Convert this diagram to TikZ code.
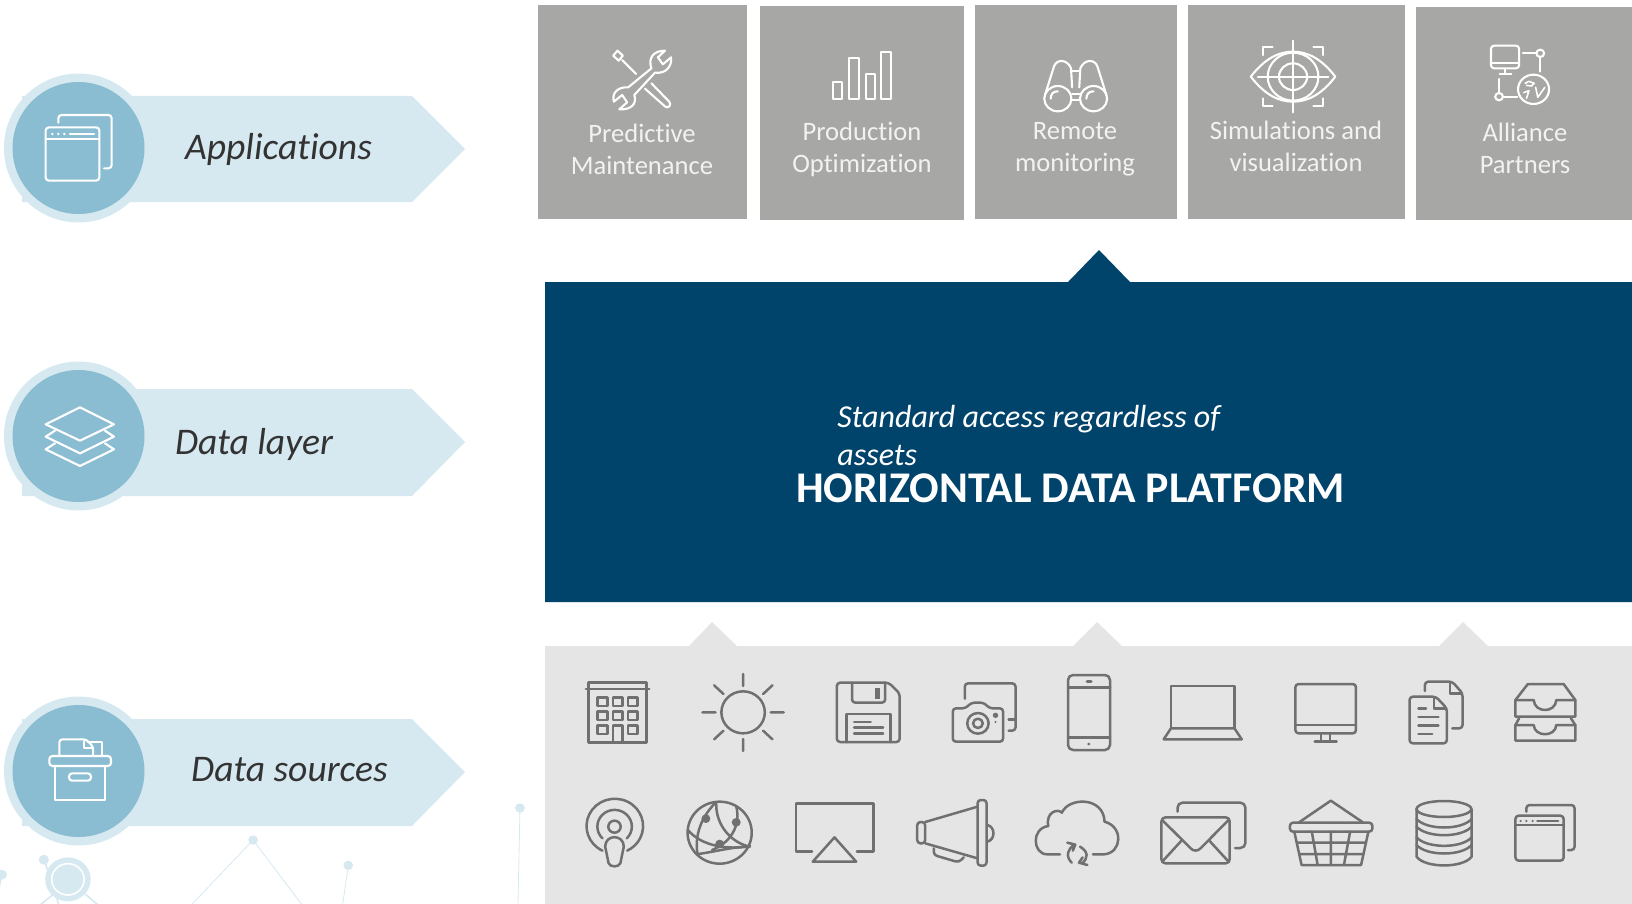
\documentclass[tikz,border=0pt]{standalone}
\usepackage{fontspec}
\setmainfont[Ligatures=NoCommon]{Carlito}
\definecolor{lightblue}{HTML}{D6E8F0}
\definecolor{midblue}{HTML}{8BBDD2}
\definecolor{navy}{HTML}{00436B}
\definecolor{tile}{HTML}{A7A7A5}
\definecolor{panel}{HTML}{E5E5E5}
\definecolor{icongrey}{HTML}{707070}
\definecolor{labelgrey}{HTML}{333333}
\tikzset{
  z1/.style={shift={(530,0)},xscale=1/2.8,yscale=1/3},
  z2/.style={shift={(1080,0)},xscale=1/2.84,yscale=1/3},
  z3/.style={shift={(550,620)},xscale=1/2.9,yscale=1/3},
  z4/.style={shift={(1060,620)},xscale=1/2.74,yscale=1/3},
  z5/.style={shift={(0,60)},xscale=1/3,yscale=1/3},
  z6/.style={shift={(0,680)},xscale=1/2.9,yscale=1/3},
  iw/.style={draw=white,line width=1.05pt,line cap=round,line join=round},
  ig/.style={draw=icongrey,line width=1.25pt,line cap=round,line join=round},
  rc/.style={rounded corners=1.6pt},
  tiletext/.style={text=white!95!black,font=\fontsize{13.3}{16}\selectfont,align=center,inner sep=0pt},
  sidelabel/.style={text=labelgrey,font=\fontsize{18.8}{22}\itshape\selectfont,inner sep=0pt},
  sidearrow/.style={fill=lightblue,draw=none},
  mesh/.style={draw=lightblue,line width=.4pt},
  meshdot/.style={fill=lightblue,draw=none},
}
\begin{document}
\begin{tikzpicture}[x=0.5pt,y=-0.5pt]
\useasboundingbox (0,0) rectangle (1632,904);
\clip (0,0) rectangle (1632,904);

% mesh decoration
\begin{scope}[z6]
  \draw[mesh] (734,480)--(550,680) (734,480)--(880,680) (1010,556)--(993,680) (1508,384)--(1502,680);
  \fill[meshdot] (734,480) circle (14) (1010,556) circle (14) (1508,384) circle (14);
  \draw[mesh,line width=.8pt] (127,539)--(140,575) (5,584)--(-2,620) (152,645)--(110,680) (247,642)--(290,680) (165,655)--(172,680);
  \fill[meshdot] (127,539) circle (15) (5,584) circle (15);
  \fill[meshdot] (197,598) circle (66);
  \draw[white,line width=.8pt] (197,598) circle (47);
\end{scope}

% side arrows
\foreach \yt/\yb/\ym/\yc/\nm in {96/202/149/148/a,389/496/442/436/b,719/826/772/771/c}{
  \fill[sidearrow] (22,\yt)--(412,\yt)--(465,\ym)--(412,\yb)--(22,\yb)--cycle;
  \fill[lightblue] (78.5,\yc) circle (74.5);
  \fill[midblue] (78.5,\yc) circle (66);
}
\node[sidelabel,anchor=center] (lapp) at (278.5,149) {Applications};
\node[sidelabel,anchor=center] (ldat) at (254,444) {Data layer};
\node[sidelabel,anchor=center] (lsrc) at (289.5,770) {Data sources};

% side icons
\begin{scope}[z5]
  \draw[iw,rc] (175,188)--(175,165)--(335,165)--(335,325)--(312,325);
  \draw[iw,rc] (137,202) rectangle (298,362);
  \draw[iw] (137,238)--(298,238) (210,222)--(282,222);
  \fill[white] (157,222) circle (4) (175,222) circle (4) (193,222) circle (4);
  \draw[iw] (240,1042)--(342,1093)--(240,1142)--(137,1093)--cycle;
  \draw[iw] (165,1112)--(137,1130)--(240,1180)--(342,1130)--(315,1112);
  \draw[iw] (165,1150)--(137,1168)--(240,1218)--(342,1168)--(315,1150);
\end{scope}
\begin{scope}[z6]
  \draw[iw,rc] (143,228) rectangle (322,258);
  \draw[iw] (160,258)--(160,360)--(305,360)--(305,258);
  \draw[iw,rc] (200,280) rectangle (264,302);
  \draw[iw,rc] (172,228)--(172,178)--(250,178)--(270,200)--(270,228);
  \draw[iw] (243,185)--(243,205)--(270,205);
  \draw[iw] (255,185)--(296,185)--(296,228);
\end{scope}

% tiles
\fill[tile] (538,5) rectangle (747,219);
\fill[tile] (760,6) rectangle (964,220);
\fill[tile] (975,5) rectangle (1177,219);
\fill[tile] (1188,5) rectangle (1405,219);
\fill[tile] (1416,7) rectangle (1632,220);
\node[tiletext] (t1) at (642,149) {Predictive\\Maintenance};
\node[tiletext] (t2) at (862,149) {Production\\Optimization};
\node[tiletext] (t3) at (1075,149) {Remote\\monitoring};
\node[tiletext] (t4) at (1296,146) {Simulations and\\visualization};
\node[tiletext] (t5) at (1525,148) {Alliance\\Partners};

% tile icons
\begin{scope}[z1]
  % screwdriver and wrench
  \draw[iw] (245,152)--(260,167)--(248,182)--(233,167)--cycle (258,180)--(297,222);
  \draw[iw,rc] (340,250)--(396,312)--(385,326)--(322,266);
  \draw[iw] (340,205) .. controls (330,175) and (345,152) .. (378,152) -- (358,172) -- (372,193) -- (395,172) .. controls (398,200) and (380,222) .. (350,218) -- (292,285) .. controls (300,310) and (285,330) .. (250,328) -- (272,307) -- (258,285) -- (235,305) .. controls (228,280) and (245,260) .. (275,262) -- cycle;
  % bars
  \draw[iw] (848,245) rectangle (874,297) (894,173) rectangle (920,297) (940,222) rectangle (966,297) (984,156) rectangle (1010,297);
  % binoculars
  \draw[iw] (1478,296) circle (38) (1578,296) circle (38);
  \draw[iw] (1442,285)--(1467,200) .. controls (1475,175) and (1505,178) .. (1515,205) -- (1518,262);
  \draw[iw] (1614,285)--(1589,200) .. controls (1581,175) and (1551,178) .. (1541,205) -- (1538,262);
  \draw[iw] (1518,212)--(1538,212) (1518,282)--(1538,282) (1518,300)--(1538,300);
  \draw[iw] (1458,296) .. controls (1458,282) and (1465,274) .. (1478,274);
  \draw[iw] (1558,296) .. controls (1558,282) and (1565,274) .. (1578,274);
\end{scope}
\begin{scope}[z2]
  % eye
  \draw[iw] (485,230) .. controls (525,175) and (565,155) .. (605,155) .. controls (645,155) and (685,175) .. (725,230) .. controls (685,285) and (645,305) .. (605,305) .. controls (565,305) and (525,285) .. (485,230) -- cycle;
  \draw[iw] (605,230) circle (72);
  \draw[iw] (605,230) circle (40);
  \draw[iw] (605,122)--(605,337) (505,230)--(705,230);
  \draw[iw] (520,165)--(520,140)--(547,140) (663,140)--(690,140)--(690,165) (520,295)--(520,318)--(547,318) (663,318)--(690,318)--(690,295);
  % alliance
  \draw[iw,rc] (1167,137) rectangle (1247,205);
  \draw[iw] (1167,190)--(1247,190) (1208,205)--(1208,222) (1192,222)--(1225,222);
  \draw[iw] (1258,160)--(1296,160) (1307,172)--(1307,215);
  \draw[iw] (1307,160) circle (11);
  \draw[iw] (1288,268) circle (44);
  \draw[iw] (1190,237)--(1190,279) (1202,290)--(1242,290);
  \draw[iw] (1190,290) circle (11);
  \draw[iw,line width=.8pt] (1264,250)--(1275,244)--(1290,250)--(1282,258)--(1268,256) (1260,278)--(1275,272)--(1268,295) (1294,262)--(1300,292)--(1320,262);
\end{scope}

% platform
\fill[navy] (545,282)--(1068,282)--(1099,250)--(1130,282)--(1632,282)--(1632,602)--(545,602)--cycle;
\node[text=white,font=\fontsize{16}{19}\itshape\selectfont,align=left,inner sep=0pt,anchor=north west] (sub) at (837,405) {Standard access regardless of\\assets};
\node[text=white,font=\fontsize{21.9}{26}\bfseries\selectfont,inner sep=0pt] (plat) at (1070.5,488) {HORIZONTAL DATA PLATFORM};

% grey panel
\fill[panel] (545,646)--(689,646)--(712,622)--(737,646)--(1073,646)--(1097,622)--(1122,646)--(1439,646)--(1463,622)--(1488,646)--(1632,646)--(1632,904)--(545,904)--cycle;

\begin{scope}[z3]
  % building
  \draw[ig] (112,188) rectangle (280,367) (104,207)--(288,207);
  \foreach \yy in {232,274}{
    \draw[ig] (138,\yy) rectangle ++(29,26) (182,\yy) rectangle ++(28,26) (226,\yy) rectangle ++(28,26);
  }
  \draw[ig] (138,316) rectangle ++(29,26) (226,316) rectangle ++(28,26) (182,367)--(182,316)--(210,316)--(210,367);
  % sun
  \draw[ig] (560,277) circle (63);
  \draw[ig] (560,162)--(560,198) (560,357)--(560,393) (442,277)--(480,277) (640,277)--(678,277) (476,196)--(503,222) (645,196)--(618,222) (476,358)--(503,332) (645,358)--(618,332);
  % floppy
  \draw[ig,rc] (1014,220)--(982,188)--(832,188)--(832,366)--(1014,366)--cycle;
  \draw[ig,rc] (876,188)--(876,248)--(972,248)--(972,188);
  \fill[icongrey] (942,203) rectangle (958,236);
  \draw[ig] (860,366)--(860,282)--(988,282)--(988,366);
  \draw[ig] (882,306)--(930,306) (882,323)--(966,323) (882,340)--(966,340);
  % camera
  \draw[ig,rc] (1203,236)--(1203,190)--(1350,190)--(1350,332)--(1330,332);
  \draw[ig] (1330,298)--(1350,298);
  \draw[ig,rc] (1168,265)--(1205,265)--(1222,248)--(1258,248)--(1275,265)--(1314,265)--(1314,365)--(1168,365)--cycle;
  \draw[ig] (1241,310) circle (31) (1241,310) circle (14);
  \fill[icongrey] (1292,286) circle (8) (1292,306) circle (3.5);
  % podcast
  \draw[ig] (152,692) arc[start angle=116,end angle=424,radius=82];
  \draw[ig] (152,655) arc[start angle=135,end angle=405,radius=50];
  \draw[ig] (187,620) circle (18);
  \draw[ig] (160,680) .. controls (160,642) and (214,642) .. (214,680) -- (204,730) .. controls (200,742) and (174,742) .. (170,730) -- cycle;
  % globe
  \draw[ig] (492,638) circle (93);
  \draw[ig] (480,548) .. controls (430,600) and (420,660) .. (428,702);
  \draw[ig] (482,548) .. controls (480,620) and (530,670) .. (580,680);
  \draw[ig] (540,558) .. controls (555,620) and (520,670) .. (470,690);
  \draw[ig] (400,630) .. controls (440,680) and (520,690) .. (580,678);
  \draw[ig] (430,702) .. controls (480,695) and (530,680) .. (578,680);
  \fill[icongrey] (452,596) circle (13) (540,607) circle (13) (492,672) circle (13);
  % airplay
  \draw[ig] (760,695)--(714,695)--(714,550)--(938,550)--(938,695)--(890,695);
  \draw[ig] (825,652)--(888,725)--(762,725)--cycle;
  % megaphone
  \draw[ig,rc] (1065,606) rectangle (1088,670);
  \draw[ig] (1088,606)--(1240,560) (1088,670)--(1240,715);
  \draw[ig,rc] (1240,540) rectangle (1266,737);
  \draw[ig] (1268,615) .. controls (1292,620) and (1292,660) .. (1268,665);
  \draw[ig,rc] (1113,685)--(1113,705)--(1185,727)--(1200,712);
\end{scope}

\begin{scope}[z4]
  % cloud
  \draw[ig] (0,703)--(-35,703) .. controls (-75,703) and (-80,625) .. (-32,618) .. controls (-40,575) and (-5,565) .. (5,578) .. controls (25,530) and (120,530) .. (122,605) .. controls (175,620) and (170,700) .. (120,703) -- (90,703);
  \draw[ig] (40,675) .. controls (20,685) and (15,710) .. (32,728) (20,668)--(42,674)--(35,692);
  \draw[ig] (55,680) .. controls (78,695) and (78,715) .. (60,730) (75,735)--(52,728)--(62,712);
  % phone
  \draw[ig,rounded corners=2.5pt] (22,165) rectangle (137,390);
  \draw[ig] (22,203)--(137,203) (22,353)--(137,353);
  \draw[ig,line width=1.5pt] (74,184)--(85,184);
  \fill[icongrey] (79,372) circle (4.5);
  % laptop
  \draw[ig] (304,322)--(304,198)--(478,198)--(478,322);
  \draw[ig] (304,325)--(478,325)--(498,358)--(284,358)--cycle;
  % monitor
  \draw[ig,rc] (645,192) rectangle (811,340);
  \draw[ig] (645,315)--(811,315) (715,340)--(715,362) (740,340)--(740,362) (698,364)--(758,364);
  % documents
  \draw[ig,rc] (1000,213)--(1000,185)--(1075,185)--(1103,220)--(1103,325)--(1075,325);
  \draw[ig] (1068,188)--(1068,220)--(1100,220);
  \draw[ig,rc] (958,230)--(1030,230)--(1060,265)--(1060,370)--(958,370)--cycle;
  \draw[ig] (1025,232)--(1025,265)--(1058,265);
  \draw[ig] (982,265)--(1003,265) (982,291)--(1037,291) (982,316)--(1037,316) (982,342)--(1020,342);
  % trays
  \draw[ig] (1248,290)--(1248,240)--(1282,192)--(1380,192)--(1412,240)--(1412,290)--cycle;
  \draw[ig] (1248,240)--(1298,240) .. controls (1300,280) and (1358,280) .. (1360,240)--(1412,240);
  \draw[ig] (1258,295)--(1248,315)--(1248,362)--(1412,362)--(1412,315)--(1400,295);
  \draw[ig] (1248,315)--(1298,315) .. controls (1300,352) and (1358,352) .. (1360,315)--(1412,315);
  % envelope
  \draw[ig,rounded corners=2pt] (278,592) rectangle (465,730);
  \draw[ig] (280,600)--(358,685) .. controls (365,694) and (378,694) .. (385,685)--(462,600);
  \draw[ig] (280,725)--(332,663) (462,725)--(410,663);
  \draw[ig,rounded corners=2.5pt] (322,575)--(322,548)--(508,548)--(508,684)--(480,684);
  % basket
  \draw[ig] (655,607)--(742,542)--(830,607);
  \draw[ig,rc] (630,608) rectangle (856,635);
  \draw[ig] (642,635)--(662,735)--(825,735)--(845,635);
  \draw[ig] (690,635)--(706,735) (742,635)--(742,735) (795,635)--(778,735) (650,668)--(838,668) (655,702)--(832,702);
  % database
  \draw[ig] (1052,567) ellipse (75 and 24);
  \draw[ig] (977,567)--(977,710) .. controls (1000,745) and (1105,745) .. (1128,710)--(1128,567);
  \foreach \yy in {597,620,652,675}{
    \draw[ig] (977,\yy) .. controls (1005,\yy+34) and (1100,\yy+34) .. (1128,\yy);
  }
  % window
  \draw[ig,rc] (1278,575)--(1278,555)--(1410,555)--(1410,690)--(1392,690);
  \draw[ig,rc] (1248,587) rectangle (1380,722);
  \draw[ig] (1248,615)--(1380,615) (1308,603)--(1365,603);
  \fill[icongrey] (1262,603) circle (3.5) (1278,603) circle (3.5) (1295,603) circle (3.5);
\end{scope}
\end{tikzpicture}
\end{document}
